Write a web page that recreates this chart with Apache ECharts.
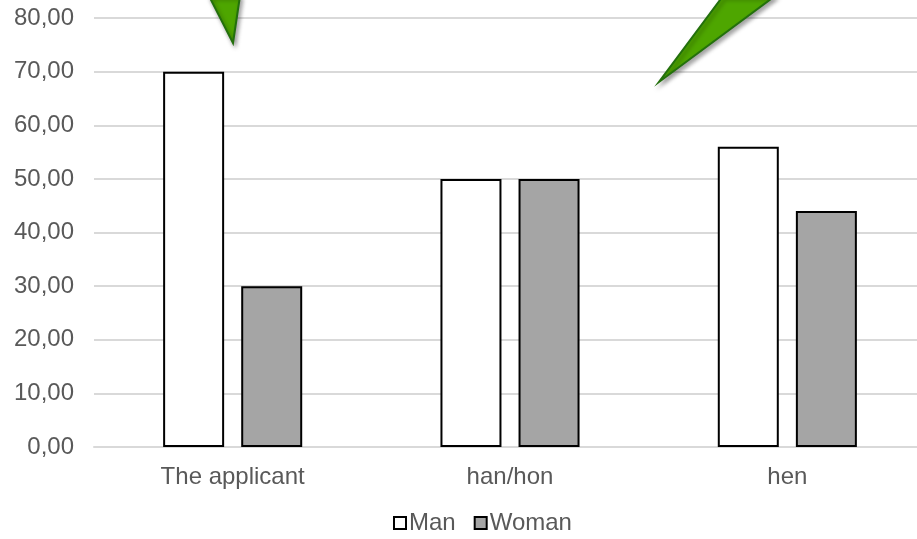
<!DOCTYPE html>
<html><head><meta charset="utf-8">
<script src="https://cdn.jsdelivr.net/npm/echarts@6/dist/echarts.min.js"></script>
<style>html,body{margin:0;padding:0;background:#fff}#c{width:917px;height:539px}</style>
</head><body><div id="c"></div>
<script>
const categories = ['The applicant', 'han/hon', 'hen'];
const manValues = [70, 50, 56];
const womanValues = [30, 50, 44];
const seriesNames = ['Man', 'Woman'];
const yMin = 0, yMax = 80, yStep = 10;

const chart = echarts.init(document.getElementById('c'), null, {renderer: 'canvas'});
const font = 'Liberation Sans, Arial, sans-serif';
chart.setOption({
  animation: false,
  backgroundColor: '#fff',
  textStyle: {fontFamily: font},
  grid: {left: 94, right: -9, top: 18, bottom: 92, containLabel: false, outerBoundsMode: 'none'},
  legend: {
    data: seriesNames, top: 506, left: 388, itemWidth: 12, itemHeight: 12, itemGap: 18,
    icon: 'rect',
    textStyle: {fontSize: 24, color: '#595959', fontFamily: font, padding: [0, 0, 0, -2]}
  },
  xAxis: {
    type: 'category', data: categories,
    axisLine: {lineStyle: {color: '#d9d9d9', width: 2}},
    axisTick: {show: false},
    axisLabel: {fontSize: 24, color: '#595959', margin: 18, fontFamily: font}
  },
  yAxis: {
    type: 'value', min: yMin, max: yMax, interval: yStep,
    axisLine: {show: false}, axisTick: {show: false},
    splitLine: {lineStyle: {color: '#d9d9d9', width: 2}},
    axisLabel: {fontSize: 24, color: '#595959', margin: 20, fontFamily: font,
      formatter: v => v.toFixed(2).replace('.', ',')}
  },
  series: [
    {name: seriesNames[0], type: 'bar', data: manValues, barWidth: 61, barGap: '28%',
     itemStyle: {color: '#ffffff', borderColor: '#000', borderWidth: 2}},
    {name: seriesNames[1], type: 'bar', data: womanValues, barWidth: 61,
     itemStyle: {color: '#a5a5a5', borderColor: '#000', borderWidth: 2}}
  ],
  graphic: [
    {type: 'polygon', z: 100, shape: {points: [[209, -4], [240, -4], [233, 43]]},
     style: {fill: '#4ea600', stroke: '#23700c', lineWidth: 2, shadowBlur: 4, shadowOffsetX: 2, shadowOffsetY: 3, shadowColor: 'rgba(0,0,0,0.35)'}},
    {type: 'polygon', z: 100, shape: {points: [[723, -4], [775, -4], [659, 82]]},
     style: {fill: '#4ea600', stroke: '#23700c', lineWidth: 2, shadowBlur: 4, shadowOffsetX: 2, shadowOffsetY: 3, shadowColor: 'rgba(0,0,0,0.35)'}}
  ]
});
</script></body></html>
